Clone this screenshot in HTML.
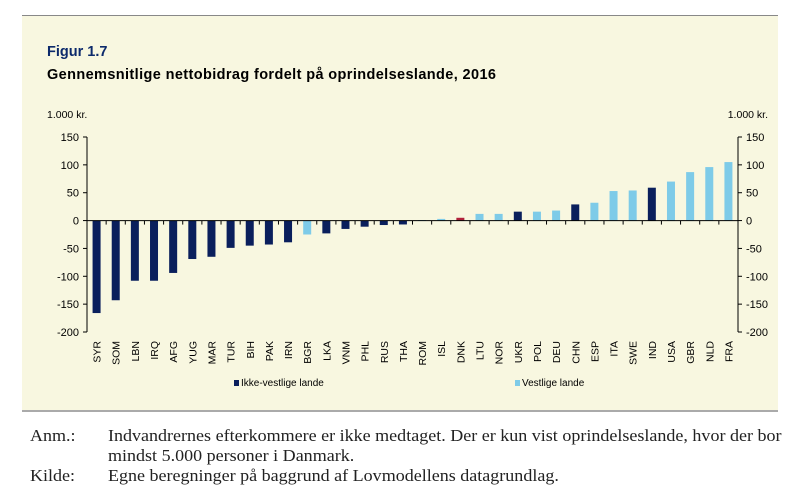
<!DOCTYPE html>
<html><head><meta charset="utf-8"><style>
body{margin:0;width:810px;height:498px;background:#fff;overflow:hidden;font-family:"Liberation Sans",sans-serif}
.note{position:absolute;font-family:"Liberation Serif",serif;font-size:17px;color:#222;white-space:nowrap;transform:scaleX(1.06);transform-origin:0 0}
</style></head><body>
<div style="position:absolute;left:22px;top:15px;width:756px;height:394px;background:#f8f7e0;border-top:1px solid #888;border-bottom:2px solid #aaa"></div>
<svg id="chart" width="810" height="498" style="position:absolute;left:0;top:0" font-family="Liberation Sans, sans-serif">
<text x="47" y="56" font-size="14.5" font-weight="bold" fill="#0c2a6b">Figur 1.7</text>
<text x="47" y="79" font-size="14.5" font-weight="bold" fill="#000" textLength="449">Gennemsnitlige nettobidrag fordelt på oprindelseslande, 2016</text>
<text x="47" y="118" font-size="10.5" fill="#000">1.000 kr.</text>
<text x="768" y="118" font-size="10.5" fill="#000" text-anchor="end">1.000 kr.</text>
<g id="g"></g>
<rect x="234" y="380" width="5" height="6" fill="#0a1f5c"/>
<text x="241" y="386" font-size="10">Ikke-vestlige lande</text>
<rect x="515" y="380" width="5" height="6" fill="#7ecbe8"/>
<text x="522" y="386" font-size="10">Vestlige lande</text>
</svg>
<div class="note" style="left:30px;top:426px">Anm.:</div>
<div class="note" style="left:108px;top:426px;line-height:20px">Indvandrernes efterkommere er ikke medtaget. Der er kun vist oprindelseslande, hvor der bor<br>mindst 5.000 personer i Danmark.</div>
<div class="note" style="left:30px;top:466px">Kilde:</div>
<div class="note" style="left:108px;top:466px">Egne beregninger på baggrund af Lovmodellens datagrundlag.</div>
<script>
const categories=["SYR","SOM","LBN","IRQ","AFG","YUG","MAR","TUR","BIH","PAK","IRN","BGR","LKA","VNM","PHL","RUS","THA","ROM","ISL","DNK","LTU","NOR","UKR","POL","DEU","CHN","ESP","ITA","SWE","IND","USA","GBR","NLD","FRA"];
const values=[-166,-143,-108,-108,-94,-69,-65,-49,-45,-43,-39,-25,-23,-15,-11,-8,-7,1,3,5,12,12,16,16,18,29,32,53,54,59,70,87,96,105];
const groups=["n","n","n","n","n","n","n","n","n","n","n","w","n","n","n","n","n","w","w","d","w","w","n","w","w","n","w","w","w","n","w","w","w","w"];
const ticks=[150,100,50,0,-50,-100,-150,-200];
const NS="http://www.w3.org/2000/svg";
const g=document.getElementById('g');
const x0=87,x1=738,yTop=137,yBot=332,vMax=150,vMin=-200;
const y=v=>yTop+(vMax-v)/(vMax-vMin)*(yBot-yTop);
const step=(x1-x0)/categories.length;
const xc=i=>x0+step*(i+0.5);
const col={n:"#0a1f5c",w:"#7ecbe8",d:"#b0203a"};
function mk(t,a){const e=document.createElementNS(NS,t);for(const k in a)e.setAttribute(k,a[k]);g.appendChild(e);return e;}
values.forEach((v,i)=>{
 const r=mk('rect',{x:xc(i)-4,y:Math.min(y(v),y(0)),width:8,height:Math.max(Math.abs(y(v)-y(0)),0.8),fill:col[groups[i]]});
 
 
 const t=mk('text',{transform:`translate(${xc(i)+4},341) rotate(-90)`,'font-size':10.5,'text-anchor':'end'});
 t.textContent=categories[i];
 
 
 const tk=mk('line',{x1:x0+step*(i+1),x2:x0+step*(i+1),y1:y(0),y2:y(0)+4,stroke:'#000'});
 
 
});
ticks.forEach(v=>{
 const a=mk('text',{x:x0-8,y:y(v)+4,'font-size':11,'text-anchor':'end'});a.textContent=v;
 
 
 const b=mk('text',{x:x1+8,y:y(v)+4,'font-size':11});b.textContent=v;
 
 
 const l1=mk('line',{x1:x0-4,x2:x0,y1:y(v),y2:y(v),stroke:'#000'});
 
 
 const l2=mk('line',{x1:x1,x2:x1+4,y1:y(v),y2:y(v),stroke:'#000'});
 
 
});
const ax1=mk('line',{x1:x0,x2:x0,y1:yTop,y2:yBot,stroke:'#000'});


const ax2=mk('line',{x1:x1,x2:x1,y1:yTop,y2:yBot,stroke:'#000'});


const zl=mk('line',{x1:x0,x2:x1,y1:y(0),y2:y(0),stroke:'#000'});


</script>
</body></html>
